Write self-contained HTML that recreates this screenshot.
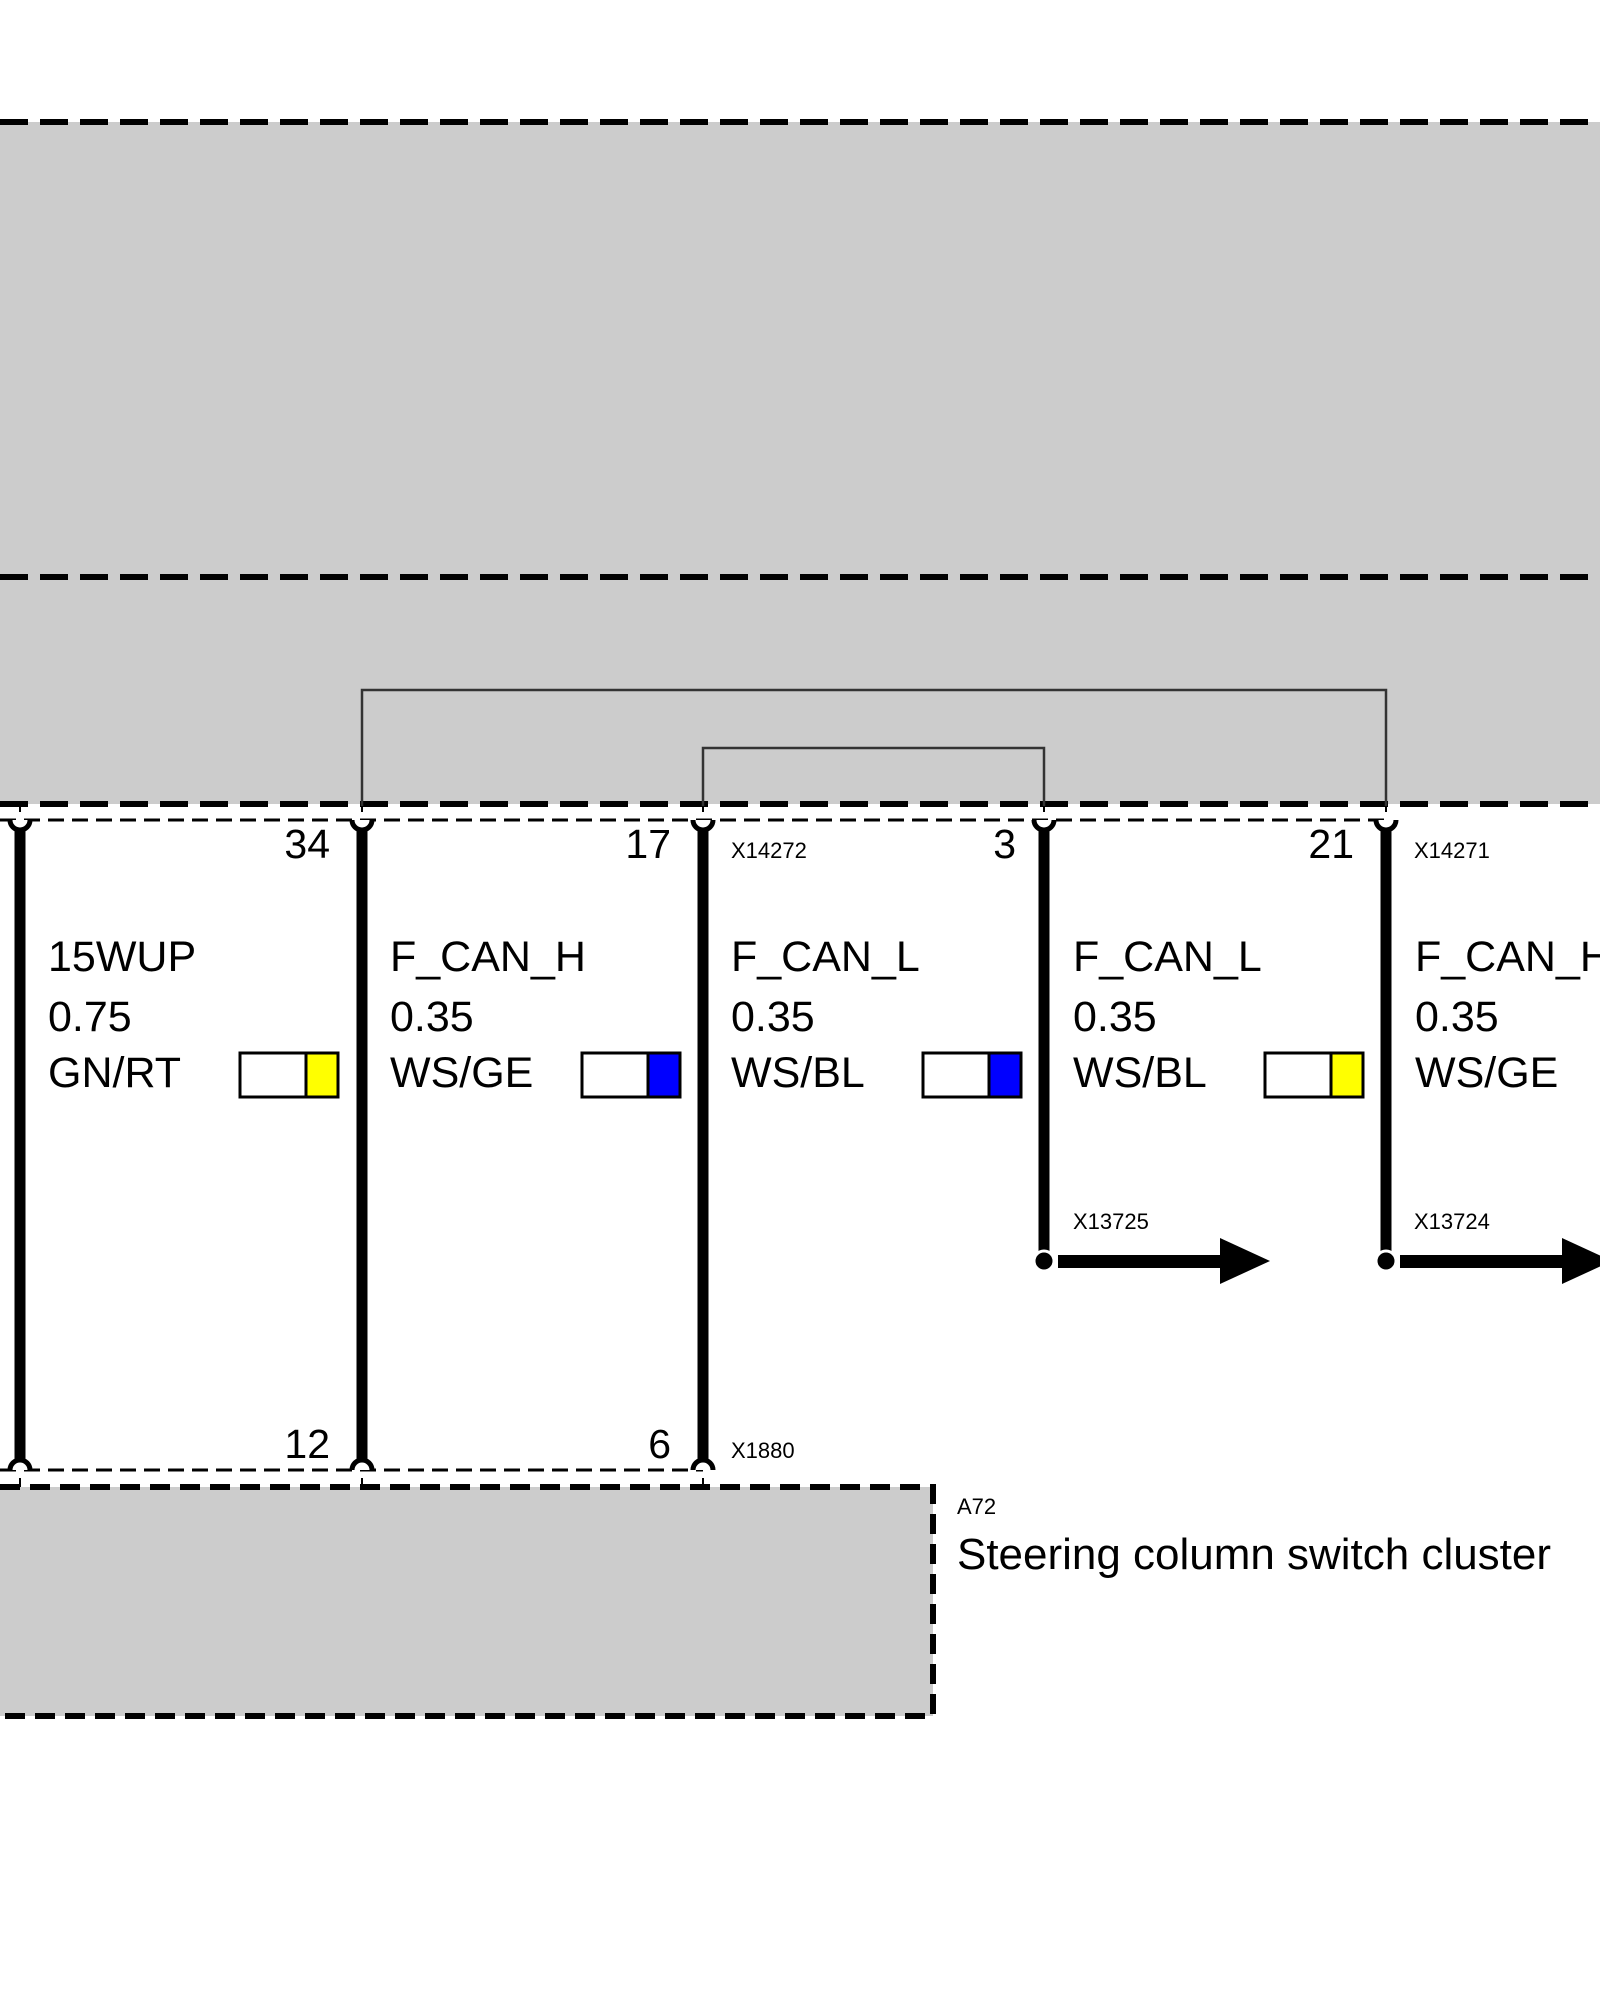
<!DOCTYPE html>
<html><head><meta charset="utf-8"><style>
html,body{margin:0;padding:0;background:#fff}
svg{display:block}
text{font-family:"Liberation Sans",Arial,sans-serif;fill:#000}
</style></head><body>
<svg width="1600" height="2000" viewBox="0 0 1600 2000" xmlns="http://www.w3.org/2000/svg">
<rect x="0" y="122" width="1600" height="682" fill="#cccccc"/>
<line x1="0" y1="122" x2="1600" y2="122" stroke="#000" stroke-width="6" stroke-dasharray="28,12"/>
<line x1="0" y1="577" x2="1600" y2="577" stroke="#000" stroke-width="6" stroke-dasharray="28,12"/>
<line x1="0" y1="804" x2="1600" y2="804" stroke="#000" stroke-width="6" stroke-dasharray="28,12"/>
<polyline points="362,806 362,690 1386,690 1386,806" fill="none" stroke="#333" stroke-width="2.5"/>
<polyline points="703,806 703,748 1044,748 1044,806" fill="none" stroke="#333" stroke-width="2.5"/>
<line x1="0" y1="820" x2="1386" y2="820" stroke="#000" stroke-width="3" stroke-dasharray="16,8"/>
<line x1="0" y1="1470" x2="703" y2="1470" stroke="#000" stroke-width="3" stroke-dasharray="16,8"/>
<g stroke="#000" stroke-width="11" fill="none">
<line x1="20" y1="826" x2="20" y2="1466"/>
<line x1="362" y1="826" x2="362" y2="1466"/>
<line x1="703" y1="826" x2="703" y2="1466"/>
<line x1="1044" y1="826" x2="1044" y2="1261"/>
<line x1="1386" y1="826" x2="1386" y2="1261"/>
</g>
<g stroke="#000" stroke-width="5" fill="#fff">
<path d="M10,820 A10,10 0 0 0 30,820"/>
<path d="M352,820 A10,10 0 0 0 372,820"/>
<path d="M693,820 A10,10 0 0 0 713,820"/>
<path d="M1034,820 A10,10 0 0 0 1054,820"/>
<path d="M1376,820 A10,10 0 0 0 1396,820"/>
<path d="M10,1470 A10,10 0 0 1 30,1470"/>
<path d="M352,1470 A10,10 0 0 1 372,1470"/>
<path d="M693,1470 A10,10 0 0 1 713,1470"/>
</g>
<g stroke="#000" stroke-width="2">
<line x1="20" y1="1478" x2="20" y2="1487"/><line x1="362" y1="1478" x2="362" y2="1487"/><line x1="703" y1="1478" x2="703" y2="1487"/>
<line x1="20" y1="806" x2="20" y2="812"/><line x1="362" y1="806" x2="362" y2="812"/><line x1="703" y1="806" x2="703" y2="812"/><line x1="1044" y1="806" x2="1044" y2="812"/><line x1="1386" y1="806" x2="1386" y2="812"/>
</g>
<g font-size="41" text-anchor="end">
<text x="330" y="858">34</text><text x="671" y="858">17</text><text x="1016" y="858">3</text><text x="1354" y="858">21</text>
<text x="330" y="1458">12</text><text x="671" y="1458">6</text>
</g>
<g font-size="22">
<text x="731" y="858">X14272</text><text x="1414" y="858">X14271</text>
<text x="731" y="1458">X1880</text>
<text x="1073" y="1229">X13725</text><text x="1414" y="1229">X13724</text>
<text x="957" y="1514">A72</text>
</g>
<g font-size="43">
<text x="48" y="971">15WUP</text><text x="48" y="1031">0.75</text><text x="48" y="1087">GN/RT</text>
<text x="390" y="971">F_CAN_H</text><text x="390" y="1031">0.35</text><text x="390" y="1087">WS/GE</text>
<text x="731" y="971">F_CAN_L</text><text x="731" y="1031">0.35</text><text x="731" y="1087">WS/BL</text>
<text x="1073" y="971">F_CAN_L</text><text x="1073" y="1031">0.35</text><text x="1073" y="1087">WS/BL</text>
<text x="1415" y="971">F_CAN_H</text><text x="1415" y="1031">0.35</text><text x="1415" y="1087">WS/GE</text>
</g>
<g stroke="#000" stroke-width="3">
<rect x="240" y="1053" width="66" height="44" fill="#fff"/><rect x="306" y="1053" width="32" height="44" fill="#ffff00"/>
<rect x="582" y="1053" width="66" height="44" fill="#fff"/><rect x="648" y="1053" width="32" height="44" fill="#0000ff"/>
<rect x="923" y="1053" width="66" height="44" fill="#fff"/><rect x="989" y="1053" width="32" height="44" fill="#0000ff"/>
<rect x="1265" y="1053" width="66" height="44" fill="#fff"/><rect x="1331" y="1053" width="32" height="44" fill="#ffff00"/>
</g>
<g>
<circle cx="1044" cy="1261" r="10" fill="#000" stroke="#fff" stroke-width="3"/>
<rect x="1058" y="1255" width="164" height="13" fill="#000"/>
<polygon points="1220,1238 1270,1261 1220,1284" fill="#000"/>
<circle cx="1386" cy="1261" r="10" fill="#000" stroke="#fff" stroke-width="3"/>
<rect x="1400" y="1255" width="164" height="13" fill="#000"/>
<polygon points="1562,1238 1612,1261 1562,1284" fill="#000"/>
</g>
<rect x="0" y="1487" width="933" height="229" fill="#cccccc"/>
<polyline points="0,1487 933,1487 933,1716 0,1716" fill="none" stroke="#000" stroke-width="6" stroke-dasharray="20,10"/>
<text x="957" y="1569" font-size="44" textLength="594" lengthAdjust="spacingAndGlyphs">Steering column switch cluster</text>
</svg>
</body></html>
